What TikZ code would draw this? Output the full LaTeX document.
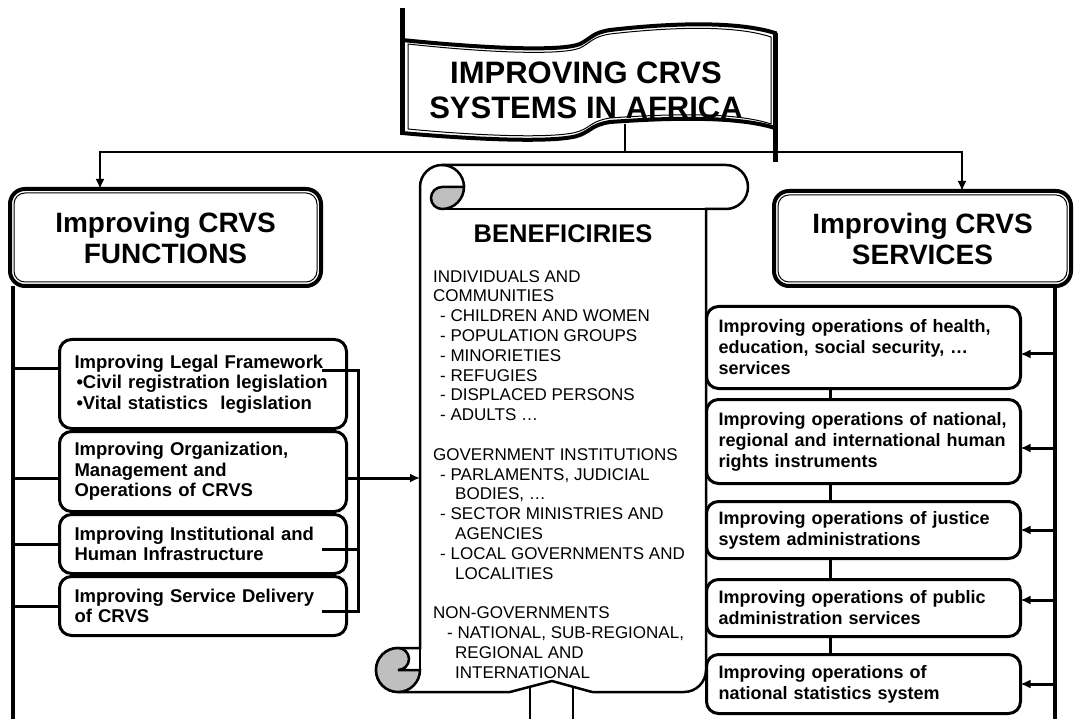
\documentclass[tikz,border=0pt]{standalone}
\usepackage{fontspec}
\setsansfont{Liberation Sans}
\usepackage{tikz}
\usetikzlibrary{arrows.meta,positioning,calc}

\begin{document}
\begin{tikzpicture}[
    x=1pt, y=-1pt,
    >={Latex[length=10pt,width=9pt]},
    font=\sffamily,
    headbox/.style={
		rectangle,
		rounded corners=15pt,
		draw=black,
		line width=4pt,
		fill=white,
		align=center,
		outer sep=0pt,
		font=\sffamily\bfseries\fontsize{28}{31}\selectfont
	},
    funcbox/.style={
		rectangle,
		rounded corners=12pt,
		draw=black,
		line width=3pt,
		fill=white,
		align=left,
		text width=257pt,
		inner xsep=15pt,
		outer sep=0pt,
		font=\sffamily\bfseries\fontsize{18.5}{20.5}\selectfont
	},
    servbox/.style={
		rectangle,
		rounded corners=12pt,
		draw=black,
		line width=3pt,
		fill=white,
		align=left,
		text width=290pt,
		inner xsep=12pt,
		outer sep=0pt,
		font=\sffamily\bfseries\fontsize{18}{21}\selectfont
	},
    scroll/.style={
		draw=black,
		line width=2.5pt,
		fill=white
	},
    curl/.style={
		draw=black,
		line width=2.5pt,
		fill=gray!50
	},
    link/.style={
		line width=3pt
	},
    bar/.style={
		line width=4pt
	}
  ]
  \useasboundingbox (0,0) rectangle (1074,719);

  % the flag on top
  \draw[line width=4pt, fill=white] (402,40) .. controls (480,48) and (560,52) .. (580,44)
    .. controls (592,38) and (592,33) .. (610,30)
    .. controls (680,22) and (740,22) .. (775,33)
    -- (775,128)
    .. controls (740,117) and (680,117) .. (610,122)
    .. controls (592,125) and (592,130) .. (580,135)
    .. controls (560,143) and (480,140) .. (402,133) -- cycle;
  \draw[line width=1pt] (408,44) .. controls (480,52) and (560,56) .. (580,48)
    .. controls (592,42) and (592,37) .. (610,34)
    .. controls (680,26) and (738,26) .. (771,37)
    -- (771,124)
    .. controls (738,113) and (680,113) .. (610,118)
    .. controls (592,121) and (592,126) .. (580,131)
    .. controls (560,139) and (480,136) .. (408,129) -- cycle;
  \draw[line width=5pt] (402,8) -- (402,135);
  \draw[line width=5pt] (775,33) -- (775,162);

  \node[font=\sffamily\bfseries\fontsize{31}{35}\selectfont, align=center] (title) at (586,90)
    {IMPROVING CRVS\\SYSTEMS IN AFRICA};

  % the two head blocks
  \node[headbox, minimum width=311pt, minimum height=97pt] (functions) at (165.5,237.5)
    {Improving CRVS\\FUNCTIONS};
  \node[headbox, minimum width=297pt, minimum height=95pt] (services) at (922.5,238.5)
    {Improving CRVS\\SERVICES};
  \draw[line width=1pt, rounded corners=11pt] ($(functions.north west)+(4,4)$) rectangle ($(functions.south east)+(-4,-4)$);
  \draw[line width=1pt, rounded corners=11pt] ($(services.north west)+(4,4)$) rectangle ($(services.south east)+(-4,-4)$);

  \coordinate (flagfoot) at (625,124);
  \coordinate (hub) at (625,152);
  \draw[line width=2.5pt] (flagfoot) -- (hub);
  \draw[->, line width=2.5pt] (hub) -| ($(functions.north)+(-65.5,0)$);
  \draw[->, line width=2.5pt] (hub) -| ($(services.north)+(39.5,0)$);

  % the scroll in the middle
  \draw[scroll] (420,648) -- (420,187)
    arc[start angle=180, end angle=270, radius=22]
    -- (726,165)
    arc[start angle=270, end angle=450, radius=22]
    -- (706,209) -- (706,670)
    arc[start angle=0, end angle=90, radius=22]
    -- (398,692)
    arc[start angle=90, end angle=270, radius=22]
    -- cycle;
  \draw[curl] (464,187) arc[start angle=0, end angle=90, radius=22]
    arc[start angle=90, end angle=270, radius=11] -- cycle;
  \draw[line width=2.5pt] (442,165) arc[start angle=270, end angle=360, radius=22];
  \draw[line width=2.5pt] (442,209) -- (706,209);
  \draw[curl] (398,648) arc[start angle=270, end angle=0, radius=22]
    -- (398,670) arc[start angle=90, end angle=-90, radius=11] -- cycle;
  \draw[line width=2.5pt] (420,648) -- (420,670);
  \coordinate (scrollw) at (420,400);

  \node[font=\sffamily\bfseries\fontsize{25.5}{30}\selectfont] (benef) at (563,234) {BENEFICIRIES};
  \node[anchor=north west, align=left, inner sep=0pt, font=\sffamily\fontsize{17}{19.8}\selectfont] (benlist) at (433,270)
  {INDIVIDUALS AND\\
   COMMUNITIES\\
   \hspace*{7pt}- CHILDREN AND WOMEN\\
   \hspace*{7pt}- POPULATION GROUPS\\
   \hspace*{7pt}- MINORIETIES\\
   \hspace*{7pt}- REFUGIES\\
   \hspace*{7pt}- DISPLACED PERSONS\\
   \hspace*{7pt}- ADULTS …\\[19.8pt]
   GOVERNMENT INSTITUTIONS\\
   \hspace*{7pt}- PARLAMENTS, JUDICIAL\\
   \hspace*{22pt}BODIES, …\\
   \hspace*{7pt}- SECTOR MINISTRIES AND\\
   \hspace*{22pt}AGENCIES\\
   \hspace*{7pt}- LOCAL GOVERNMENTS AND\\
   \hspace*{22pt}LOCALITIES\\[19.8pt]
   NON-GOVERNMENTS\\
   \hspace*{14pt}- NATIONAL, SUB-REGIONAL,\\
   \hspace*{22pt}REGIONAL AND\\
   \hspace*{22pt}INTERNATIONAL};

  % arrow coming up under the scroll
  \fill[white] (510,692) -- (552,681) -- (592,692) -- (592,695) -- (510,695) -- cycle;
  \draw[line width=2.5pt] (510,692) -- (552,681) -- (592,692);
  \draw[line width=2.5pt] (530,686.5) -- (530,719);
  \draw[line width=2.5pt] (573,686.5) -- (573,719);

  % functions column
  \node[funcbox, minimum height=89pt] (legal) at (203,384)
    {Improving Legal Framework\\
     \hspace*{2pt}\textbullet Civil registration legislation\\
     \hspace*{2pt}\textbullet Vital statistics\ \ legislation};
  \node[funcbox, minimum height=80pt, below=3pt of legal] (organization)
    {Improving Organization,\\ Management and\\ Operations of CRVS};
  \node[funcbox, minimum height=59pt, below=3pt of organization] (infra)
    {Improving Institutional and\\ Human Infrastructure};
  \node[funcbox, minimum height=59pt, below=3pt of infra] (delivery)
    {Improving Service Delivery\\ of CRVS};

  \coordinate (lbar) at (13,719);
  \coordinate (brk) at (358,400);
  \draw[bar] (functions.south -| lbar) -- (lbar);
  \draw[link] ($(legal.west)+(0,-15)$) -- ($(legal.west -| lbar)+(0,-15)$);
  \draw[link] ($(organization.west)+(0,6.5)$) -- ($(organization.west -| lbar)+(0,6.5)$);
  \draw[link] (infra.west) -- (infra.west -| lbar);
  \draw[link] (delivery.west) -- (delivery.west -| lbar);

  \draw[link] ($(legal.east)+(-24.5,-13)$) -| ($(delivery.east -| brk)+(0,5)$) -- ($(delivery.east)+(-24.5,5)$);
  \draw[link] ($(infra.east)+(-24.5,5)$) -- ($(infra.east -| brk)+(0,5)$);
  \draw[->, link] ($(organization.east)+(0,6.5)$) -- ($(organization.east -| scrollw)+(0,6.5)$);

  % services column
  \node[servbox, minimum height=82pt] (health) at (863.5,347.5)
    {Improving operations of health,\\ education, social security, …\\ services};
  \node[servbox, minimum height=84pt, below=11pt of health] (rights)
    {Improving operations of national,\\ regional and international human\\ rights instruments};
  \node[servbox, minimum height=57pt, below=18pt of rights] (justice)
    {Improving operations of justice\\ system administrations};
  \node[servbox, minimum height=57pt, below=21pt of justice] (public)
    {Improving operations of public\\ administration services};
  \node[servbox, minimum height=59pt, below=18pt of public] (statistics)
    {Improving operations of\\ national statistics system};

  \draw[link] ($(health.south)+(-33.5,0)$) -- ($(rights.north)+(-33.5,0)$);
  \draw[link] ($(rights.south)+(-33.5,0)$) -- ($(justice.north)+(-33.5,0)$);
  \draw[link] ($(justice.south)+(-33.5,0)$) -- ($(public.north)+(-33.5,0)$);
  \draw[link] ($(public.south)+(-33.5,0)$) -- ($(statistics.north)+(-33.5,0)$);

  \coordinate (rbar) at (1055,719);
  \draw[bar] (services.south -| rbar) -- (rbar);
  \draw[->, link] ($(health.east -| rbar)+(0,6.5)$) -- ($(health.east)+(0,6.5)$);
  \draw[->, link] ($(rights.east -| rbar)+(0,6.5)$) -- ($(rights.east)+(0,6.5)$);
  \draw[->, link] (justice.east -| rbar) -- (justice.east);
  \draw[->, link] ($(public.east -| rbar)+(0,-8)$) -- ($(public.east)+(0,-8)$);
  \draw[->, link] (statistics.east -| rbar) -- (statistics.east);

\end{tikzpicture}
\end{document}
